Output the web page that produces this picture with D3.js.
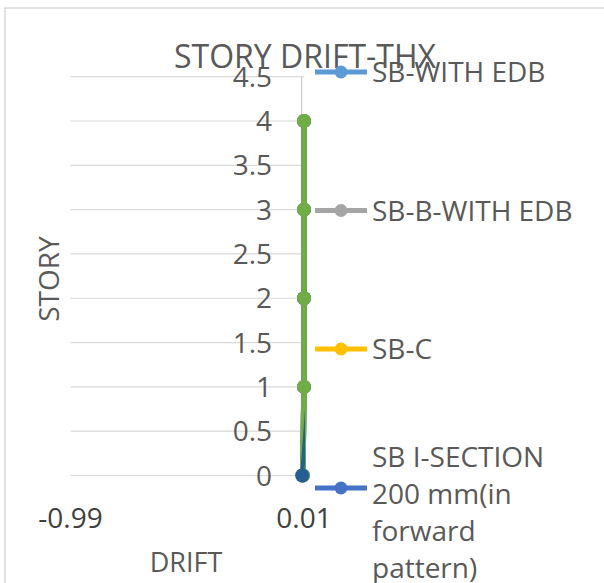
<!DOCTYPE html>
<html><head><meta charset="utf-8">
<script src="https://cdn.jsdelivr.net/npm/d3@7"></script>
<style>body{margin:0;background:#fff}svg{display:block;font-family:"Open Sans",sans-serif}</style>
</head><body><svg id="c" width="604" height="583"></svg>
<script>
// ---- data ----
const stories = [0, 1, 2, 3, 4];
const yTicks = [0, 0.5, 1, 1.5, 2, 2.5, 3, 3.5, 4, 4.5];
const xTicks = [-0.99, 0.01];
const legendNames = ["SB-WITH EDB", "SB-B-WITH EDB", "SB-C", "SB I-SECTION 200 mm(in forward pattern)"];
const sbWithEdb   = [0.005, 0.01, 0.01, 0.01, 0.01];
const sbBWithEdb  = [0.005, 0.01, 0.01, 0.01, 0.01];
const sbC         = [0.005, 0.01, 0.01, 0.01, 0.01];
const sbISection  = [0.005, 0.01, 0.01, 0.01, 0.01];
const series5     = [0.005, 0.01, 0.01, 0.01, 0.01];
const series6     = [0.002, 0.03, 0.035, 0.04, 0.045];
const colors = ["#5B9BD5", "#A5A5A5", "#FFC000", "#4472C4", "#70AD47", "#255E91"];
const allSeries = [sbWithEdb, sbBWithEdb, sbC, sbISection, series5, series6];

// ---- layout ----
const svg = d3.select("#c");
const x = d3.scaleLinear().domain([-0.99, 0.01]).range([70.5, 304]);
const y = d3.scaleLinear().domain([0, 4.5]).range([475.5, 76.7]);
const txt = "#595959";

// chart area border (extends beyond view)
svg.append("path").attr("d", "M5,590 V8 H610").attr("fill", "none")
  .attr("stroke", "#D9D9D9").attr("stroke-width", 1.5);

// gridlines
svg.append("g").selectAll("line").data(yTicks).join("line")
  .attr("x1", x(-0.99)).attr("x2", x(0.01))
  .attr("y1", d => y(d)).attr("y2", d => y(d))
  .attr("stroke", "#D9D9D9").attr("stroke-width", 1.2);

// vertical axis line at x = 0
svg.append("line").attr("x1", x(0)).attr("x2", x(0))
  .attr("y1", y(4.5)).attr("y2", y(0))
  .attr("stroke", "#CCCCCC").attr("stroke-width", 1.2);

// y tick labels
svg.append("g").selectAll("text").data(yTicks).join("text")
  .attr("x", 272).attr("y", d => y(d)).attr("dy", "0.36em")
  .attr("text-anchor", "end").attr("font-size", 28).attr("fill", txt)
  .text(d => d3.format("")(d));

// x tick labels
svg.append("g").selectAll("text").data(xTicks).join("text")
  .attr("x", d => x(d)).attr("y", 528)
  .attr("text-anchor", "middle").attr("font-size", 28).attr("fill", "#404040")
  .text(d => d);

// titles
svg.append("text").attr("x", 305).attr("y", 68).attr("text-anchor", "middle")
  .attr("font-size", 32).attr("fill", txt).text("STORY DRIFT-THX");
svg.append("text").attr("transform", "translate(59,279) rotate(-90)")
  .attr("text-anchor", "middle").attr("font-size", 28).attr("fill", txt).text("STORY");
svg.append("text").attr("x", 186).attr("y", 572).attr("text-anchor", "middle")
  .attr("font-size", 27).attr("fill", txt).text("DRIFT");

// series
svg.append("clipPath").attr("id", "clipWide").append("rect")
  .attr("x", 60).attr("y", 60).attr("width", 248).attr("height", 430);
svg.append("clipPath").attr("id", "clipEdge").append("rect")
  .attr("x", 60).attr("y", 60).attr("width", 245).attr("height", 430);
const line = d3.line().x(d => x(d[0])).y(d => y(d[1]));
allSeries.forEach((vals, i) => {
  const pts = vals.map((v, j) => [v, stories[j]]);
  svg.append("path").datum(pts).attr("d", line).attr("fill", "none")
    .attr("clip-path", i === 5 ? "url(#clipEdge)" : "url(#clipWide)")
    .attr("stroke", colors[i]).attr("stroke-width", i === 5 ? 4 : 5.5).attr("stroke-linejoin", "round");
  svg.append("g").selectAll("circle").data(pts.filter(p => p[0] <= 0.012)).join("circle")
    .attr("cx", p => x(p[0])).attr("cy", p => y(p[1])).attr("r", 7)
    .attr("fill", colors[i]);
});

// legend
const legY = [72, 210.5, 349, 488];
legendNames.forEach((name, i) => {
  const g = svg.append("g");
  const cy = legY[i];
  g.append("line").attr("x1", 315).attr("x2", 367).attr("y1", cy).attr("y2", cy)
    .attr("stroke", colors[i]).attr("stroke-width", 5);
  g.append("circle").attr("cx", 341).attr("cy", cy).attr("r", 6.5).attr("fill", colors[i]);
  const t = g.append("text").attr("font-size", 28).attr("fill", txt);
  // greedy wrap
  const words = name.split(" ");
  const lines = [];
  let cur = "";
  const probe = svg.append("text").attr("font-size", 28);
  words.forEach(w => {
    const test = cur ? cur + " " + w : w;
    probe.text(test);
    if (probe.node().getComputedTextLength() > 215 && cur) { lines.push(cur); cur = w; }
    else cur = test;
  });
  lines.push(cur);
  probe.remove();
  const firstY = lines.length > 1 ? cy - 31 : cy;
  lines.forEach((l, k) => {
    t.append("tspan").attr("x", 372).attr("y", firstY + k * 37).attr("dy", "0.36em").text(l);
  });
});
</script></body></html>
